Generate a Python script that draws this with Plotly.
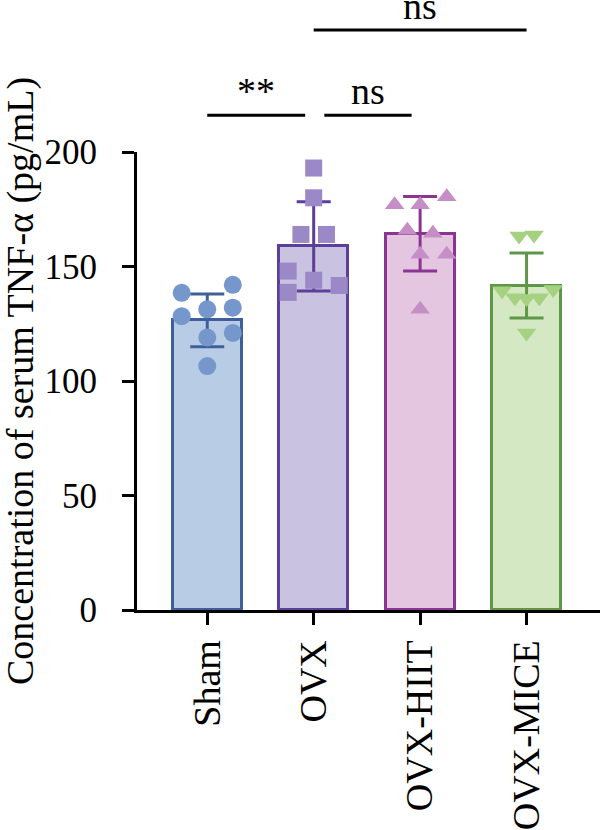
import plotly.graph_objects as go

categories = ["Sham", "OVX", "OVX-HIIT", "OVX-MICE"]
means = [126.5, 158.8, 164.3, 141.7]
sds = [11.5, 19.5, 16.3, 14.2]

sham_vals = [138.5, 142.0, 131.3, 132.0, 128.3, 119.0, 121.0, 106.5]
sham_off = [-0.24, 0.24, 0.0, 0.24, -0.24, 0.0, 0.24, 0.0]
ovx_vals = [193.0, 180.0, 164.0, 164.0, 148.0, 138.7, 144.0, 141.7]
ovx_off = [0.0, 0.0, -0.12, 0.12, -0.24, -0.24, 0.0, 0.24]
hiit_vals = [177.0, 177.0, 180.5, 165.8, 164.5, 155.3, 155.3, 131.3]
hiit_off = [-0.24, 0.0, 0.25, -0.12, 0.12, 0.0, 0.25, 0.0]
mice_vals = [163.3, 163.8, 139.4, 136.4, 136.0, 136.4, 140.0, 121.0]
mice_off = [-0.07, 0.07, -0.23, -0.11, 0.0, 0.12, 0.25, 0.0]

points = [sham_vals, ovx_vals, hiit_vals, mice_vals]
offsets = [sham_off, ovx_off, hiit_off, mice_off]

fills = ["#b8cce6", "#c9c3e1", "#e4c6e1", "#d4e8c4"]
edges = ["#3e5f98", "#5b3f98", "#8b3491", "#5f9749"]
dots = ["#7597cc", "#9b88c7", "#c58ec6", "#a5d180"]
symbols = ["circle", "square", "triangle-up", "triangle-down"]

# significance comparisons
sig_x0 = [0.0, 1.1, 1.0]
sig_x1 = [0.92, 1.92, 3.0]
sig_y = [216.0, 216.0, 253.3]
sig_text = ["**", "ns", "ns"]

YMAX = 200.0
FONT = "Liberation Serif"

fig = go.Figure()
for i, cat in enumerate(categories):
    fig.add_trace(go.Bar(
        x=[i], y=[means[i]], width=0.65,
        marker=dict(color=fills[i], line=dict(color=edges[i], width=3)),
        error_y=dict(type="data", array=[sds[i]], visible=True,
                     color=edges[i], thickness=3, width=17),
        showlegend=False,
    ))
for i, cat in enumerate(categories):
    fig.add_trace(go.Scatter(
        x=[i + o for o in offsets[i]], y=points[i], mode="markers",
        marker=dict(symbol=symbols[i], size=18 if i == 0 else 17, color=dots[i],
                    line=dict(width=0)),
        showlegend=False,
    ))

for x0, x1, yv, t in zip(sig_x0, sig_x1, sig_y, sig_text):
    fig.add_shape(type="line", xref="x", yref="paper", x0=x0, x1=x1,
                  y0=yv / YMAX, y1=yv / YMAX, line=dict(color="black", width=3))
    fig.add_annotation(xref="x", yref="paper", x=(x0 + x1) / 2, y=yv / YMAX,
                       text=t, showarrow=False, yanchor="bottom", yshift=1,
                       font=dict(family=FONT, size=38, color="black"))

fig.add_annotation(xref="paper", yref="paper", x=-117 / 463, y=0.5,
                   text="Concentration of serum TNF-α (pg/mL)", textangle=-90,
                   showarrow=False, xanchor="center", yanchor="middle",
                   font=dict(family=FONT, size=38, color="black"))

fig.update_layout(
    width=600, height=830,
    margin=dict(l=137, r=0, t=152, b=218),
    plot_bgcolor="white", paper_bgcolor="white",
    bargap=0,
    font=dict(family=FONT, color="black"),
    xaxis=dict(range=[-0.66, 3.69], tickmode="array", tickvals=[0, 1, 2, 3],
               ticktext=categories, tickangle=-90, ticks="outside", ticklen=12,
               tickwidth=3, tickcolor="black", showline=True, linewidth=3,
               linecolor="black", showgrid=False, zeroline=False,
               tickfont=dict(family=FONT, size=38, color="black")),
    yaxis=dict(range=[0, YMAX], tickvals=[0, 50, 100, 150, 200], ticks="outside",
               ticklen=12, tickwidth=3, tickcolor="black", showline=True,
               linewidth=3, linecolor="black", showgrid=False, zeroline=False,
               ticklabelstandoff=18,
               tickfont=dict(family=FONT, size=35, color="black")),
)

fig.write_html("out.html")
